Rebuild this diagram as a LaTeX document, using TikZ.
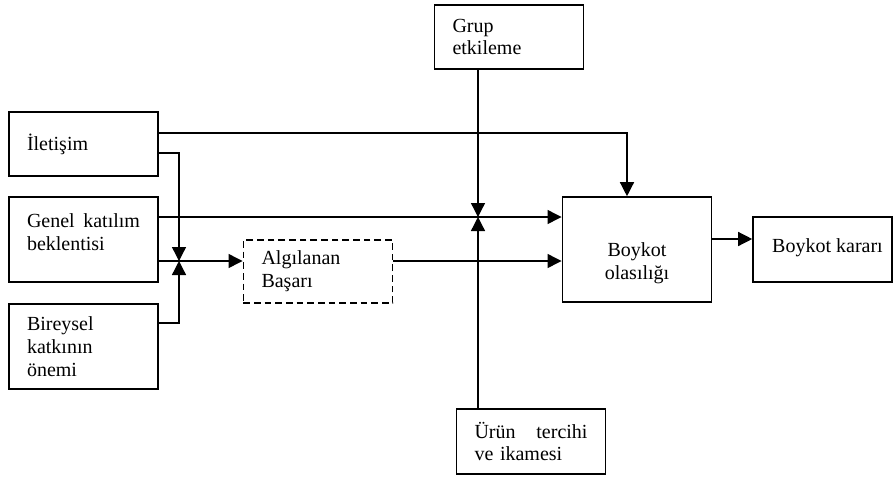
\documentclass[tikz,border=0pt]{standalone}
\usepackage{fontspec}
\setmainfont{Liberation Serif}
\usetikzlibrary{positioning,arrows.meta,calc}

\begin{document}
\begin{tikzpicture}[
    x=0.75pt, y=-0.75pt,
    font=\fontsize{15pt}{17pt}\selectfont,
    >={Triangle[length=10.5pt,width=10.5pt]},
    box/.style={
        draw=black,
        line width=1.2pt,
        inner sep=0pt,
        minimum width=112pt
    },
    leftbox/.style={
        box,
        text width=84.75pt,
        align=left
    },
    dashbox/.style={
        leftbox,
        dash pattern=on 5pt off 3pt
    },
    txt/.style={
        inner sep=0pt,
        align=left
    },
    conn/.style={
        ->,
        line width=1pt
    }
]
\useasboundingbox (0,0) rectangle (893,476);

% Nodes - left column
\node[leftbox, minimum width=111.75pt, minimum height=48pt] (iletisim) at (83.5,144) {İletişim};
\node[box, minimum width=111.75pt, minimum height=63.75pt] (genel) at (83.5,239.5) {};
\node[txt, text width=84.75pt] (genel-txt) at (83.5,232) {Genel\hfill katılım\\beklentisi};
\node[leftbox, minimum width=111.75pt, minimum height=63.75pt] (bireysel) at (83.5,346.5) {Bireysel\\katkının\\önemi};

% Middle
\node[dashbox, minimum height=47.25pt] (algilanan) at (318,271.5) {Algılanan\\Başarı};
\node[leftbox, minimum height=48pt] (grup) at (509,37) {Grup\\etkileme};
\node[leftbox, minimum height=48.75pt] (urun) at (531,441.5) {Ürün\hfill tercihi\\ve ikamesi};

% Right
\node[box, minimum height=78.75pt] (olasilik) at (637,249.5) {};
\node[txt, align=center] (olasilik-txt) at (637,263.5) {Boykot\\olasılığı};
\node[box, minimum width=104.25pt, minimum height=48.75pt] (karar) at (822.5,249.5) {};
\node[txt] (karar-txt) at (827.5,248) {Boykot kararı};

% Junctions
\coordinate (j1) at (179,261);
\coordinate (j2) at (478,217);

% Arrows
\draw[conn] ($(iletisim.east)+(0,-11)$) -| ($(olasilik.north)+(-10,0)$);
\draw[conn] ($(iletisim.east)+(0,9)$) -| (j1);
\draw[conn] ($(bireysel.east)+(0,-23.5)$) -| (j1);
\draw[conn] (genel.east |- j1) -- (algilanan.west |- j1);
\draw[conn] (genel.east |- j2) -- (olasilik.west |- j2);
\draw[conn] (grup.south -| j2) -- (j2);
\draw[conn] (urun.north -| j2) -- (j2);
\draw[conn] (algilanan.east |- j1) -- (olasilik.west |- j1);
\draw[conn] ($(olasilik.east)+(0,-10.5)$) -- ($(karar.west)+(0,-10.5)$);

\end{tikzpicture}
\end{document}
